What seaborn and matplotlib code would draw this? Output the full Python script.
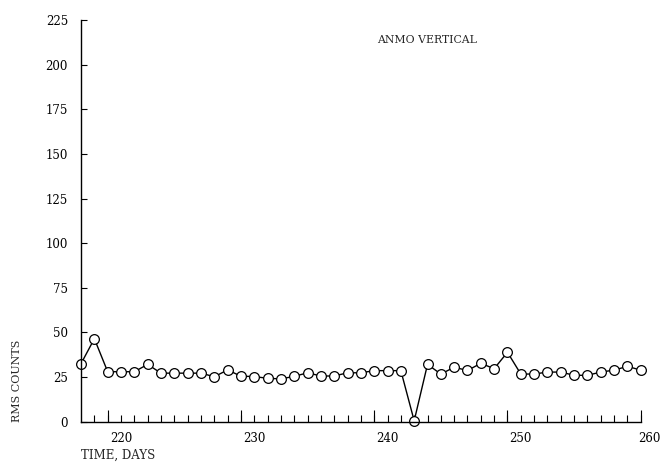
import matplotlib
matplotlib.use("Agg")
import matplotlib.pyplot as plt
import matplotlib.transforms as mtransforms
import seaborn as sns
import pandas as pd

days = list(range(217, 260))
rms = [32.5, 46.5, 28.0, 28.0, 28.0, 32.1, 27.2, 27.2, 27.2, 27.2,
       25.2, 29.0, 25.5, 25.3, 24.3, 24.0, 25.4, 27.4, 25.6, 25.6,
       27.4, 27.4, 28.6, 28.6, 28.6, 0.5, 32.1, 26.7, 30.5, 28.7,
       32.7, 29.7, 38.9, 26.7, 26.7, 27.8, 27.8, 26.0, 26.0, 27.8,
       28.9, 31.0, 28.9]
x_major = [220, 230, 240, 250, 260]
x_tall = [219, 229, 239, 249, 259]
x_minor = list(range(218, 260))
y_ticks = [0, 25, 50, 75, 100, 125, 150, 175, 200, 225]
title = "ANMO VERTICAL"
xlabel = "TIME, DAYS"
ylabel = "RMS COUNTS"

sns.set_style("ticks")
plt.rcParams["font.family"] = ["DejaVu Serif"]

df = pd.DataFrame({"day": days, "rms": rms})

fig = plt.figure(figsize=(6.62, 4.65), dpi=100)
ax = fig.add_axes([0.1224, 0.0931, 0.8656, 0.8638])

sns.lineplot(data=df, x="day", y="rms", ax=ax, color="black", linewidth=1.0,
             marker="o", markersize=7.0, markerfacecolor="white",
             markeredgecolor="black", markeredgewidth=0.9, clip_on=False)

ax.set_xlim(217, 260)
ax.set_ylim(0, 225)
ax.spines["top"].set_visible(False)
ax.spines["right"].set_visible(False)
ax.spines["bottom"].set_bounds(217, 259)
for s in ("left", "bottom"):
    ax.spines[s].set_color("black")
    ax.spines[s].set_linewidth(1.0)

ax.set_xticks(x_major)
ax.set_xticklabels([str(v) for v in x_major])
ax.set_xticks(x_minor, minor=True)
ax.xaxis.remove_overlapping_locs = False
ax.tick_params(axis="x", which="major", length=0, pad=7.2, labelsize=8.5, colors="black")
ax.tick_params(axis="x", which="minor", direction="in", length=4.7, width=0.8, color="black")

# keep the last label ("260") inside the canvas
last_lbl = ax.get_xticklabels()[-1]
last_lbl.set_transform(last_lbl.get_transform() +
                       mtransforms.ScaledTranslation(-5 / 100, 0, fig.dpi_scale_trans))

secax = ax.secondary_xaxis("bottom")
secax.set_xticks(x_tall)
secax.tick_params(direction="in", length=8.6, width=0.8, labelbottom=False, color="black")
secax.spines["bottom"].set_visible(False)

ax.set_yticks(y_ticks)
ax.set_yticklabels([str(v) for v in y_ticks])
ax.tick_params(axis="y", direction="in", length=4.3, width=0.8, pad=9.4, labelsize=8.5, colors="black")

ax.set_xlabel(xlabel, loc="left", fontsize=8.5)
ax.xaxis.set_label_coords(0.0, -0.068)
ax.set_ylabel(ylabel, fontsize=8.0)
ax.yaxis.set_label_coords(-0.103, 0.102)

ax.text(0.604, 0.950, title, transform=ax.transAxes, ha="center", va="center", fontsize=7.8)

fig.savefig("out.png", dpi=100)
